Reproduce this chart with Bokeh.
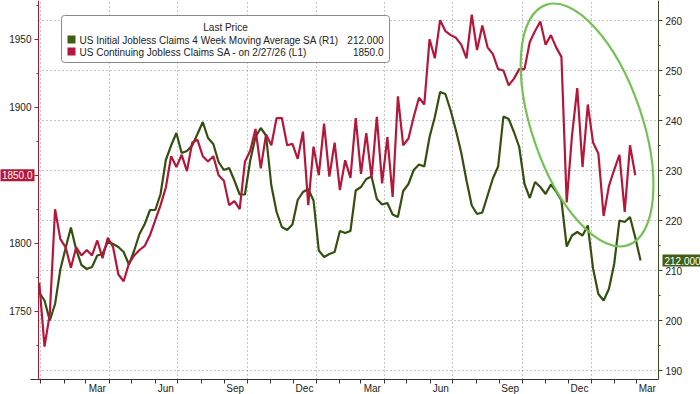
import pandas as pd
from bokeh.plotting import figure
from bokeh.models import (Range1d, LinearAxis, FixedTicker, Grid, Label,
                          BoxAnnotation, ColumnDataSource)
from bokeh.embed import file_html
from bokeh.resources import INLINE

# ---------------- data ----------------
red_name = "US Continuing Jobless Claims SA -  on 2/27/26  (L1)"
green_name = "US Initial Jobless Claims 4 Week Moving Average SA  (R1)"
red_last = "1850.0"
green_last = "212.000"

red_start = "2023-12-30"      # weekly
green_start = "2023-12-30"    # weekly

red_values = [1771, 1724, 1748, 1825, 1803, 1797, 1782, 1797, 1791, 1795,
              1791, 1802, 1789, 1804, 1797, 1777, 1772, 1785, 1791, 1795,
              1798, 1806, 1817, 1828, 1841, 1864, 1856, 1865, 1853, 1874,
              1876, 1864, 1860, 1864, 1850, 1846, 1828, 1831, 1825, 1860,
              1868, 1884, 1855, 1880, 1872, 1892, 1892, 1872, 1873, 1862,
              1882, 1828, 1871, 1850, 1888, 1849, 1874, 1839, 1861, 1848,
              1892, 1851, 1881, 1848, 1893, 1844, 1878, 1834, 1908, 1872,
              1877, 1893, 1907, 1902, 1950, 1936, 1964, 1956, 1953, 1951,
              1946, 1936, 1968, 1942, 1960, 1944, 1939, 1928, 1927, 1916,
              1921, 1928, 1928, 1948, 1956, 1963, 1946, 1953, 1944, 1937,
              1830, 1879, 1914, 1856, 1902, 1874, 1866, 1820, 1842, 1854,
              1865, 1823, 1872, 1850]

green_values = [205.6, 204.0, 200.0, 203.3, 210.2, 214.5, 218.6, 214.2, 211.1, 210.3,
                210.7, 213.0, 213.3, 215.8, 215.3, 214.7, 213.7, 211.2, 214.0, 217.3,
                219.3, 222.1, 222.1, 225.3, 232.1, 235.0, 237.5, 233.5, 233.9, 235.0,
                237.3, 239.7, 236.5, 235.3, 231.7, 230.1, 230.5, 228.0, 225.2, 225.2,
                232.0, 236.7, 238.5, 237.0, 227.0, 221.7, 218.7, 218.1, 219.2, 224.1,
                225.7, 226.3, 224.0, 214.0, 212.7, 213.3, 213.7, 217.9, 217.5, 217.9,
                226.0, 226.7, 228.3, 228.8, 224.3, 223.2, 223.5, 221.2, 220.7, 225.9,
                227.3, 230.1, 231.2, 230.8, 236.7, 240.7, 245.7, 245.3, 242.0, 238.0,
                233.6, 228.0, 223.0, 221.3, 221.6, 225.0, 228.4, 230.8, 240.8, 240.3,
                237.7, 234.7, 227.3, 224.5, 227.7, 226.7, 225.3, 227.2, 225.8, 224.0,
                214.8, 217.0, 217.7, 217.0, 219.0, 210.4, 205.3, 204.0, 206.3, 211.3,
                220.0, 219.7, 220.7, 216.6, 212.0]

x_labels = ["Mar", "Jun", "Sep", "Dec", "Mar", "Jun", "Sep", "Dec", "Mar"]
x_label_dates = ["2024-03-16", "2024-06-15", "2024-09-15", "2024-12-16",
                 "2025-03-16", "2025-06-15", "2025-09-15", "2025-12-16",
                 "2026-03-16"]
grid_dates = ["2024-01-01", "2024-04-01", "2024-07-01", "2024-10-01",
              "2025-01-01", "2025-04-01", "2025-07-01", "2025-10-01",
              "2026-01-01"]
month_start_first, month_start_last = "2024-01-01", "2026-03-01"

left_ticks = [1750, 1800, 1850, 1900, 1950]
left_minor = [1700, 1725, 1750, 1775, 1800, 1825, 1850, 1875, 1900, 1925, 1950, 1975]
right_ticks = [190, 200, 210, 220, 230, 240, 250, 260]
right_minor = [190, 195, 200, 205, 210, 215, 220, 225, 230, 235, 240, 245, 250, 255, 260]

# ---------------- styles / layout ----------------
RED = "#b5173b"
GREEN = "#34500f"
GREEN_TAG = "#3f5f12"
ELLIPSE = "#74c255"
TXT = "#222222"
FONT = "Liberation Sans"
GRID = "#8c8c8c"

W, H = 700, 394
DAY = 86400000.0
PX_PER_DAY = 0.7535


def ms(d):
    return pd.Timestamp(d).value / 1e6


# the frame covers the whole canvas; axes sit at fixed positions inside it
axis_left_x = ms("2023-12-29")                       # 38 px from left
axis_right_x = axis_left_x + 620 / PX_PER_DAY * DAY  # 658 px from left
x_start = axis_left_x - 38 / PX_PER_DAY * DAY
x_end = axis_left_x + (W - 38) / PX_PER_DAY * DAY

right_lo, right_hi = 185.2, 264.0         # green scale
left_lo, left_hi = 1688.75, 1978.46       # red scale
axis_bottom_y = 188.2                     # x axis position (green scale)
left_axis_bottom = 1699.8

red_src = ColumnDataSource(dict(
    x=pd.date_range(red_start, periods=len(red_values), freq="7D"), y=red_values))
green_src = ColumnDataSource(dict(
    x=pd.date_range(green_start, periods=len(green_values), freq="7D"), y=green_values))

p = figure(width=W, height=H, output_backend="svg", toolbar_location=None,
           x_range=Range1d(x_start, x_end), y_range=Range1d(right_lo, right_hi),
           x_axis_type=None, y_axis_type=None,
           min_border_left=0, min_border_right=0, min_border_top=0,
           min_border_bottom=0, outline_line_color=None,
           background_fill_color="white", border_fill_color="white")

p.extra_y_ranges = {"left": Range1d(left_lo, left_hi)}


def style_axis(ax, color):
    ax.axis_line_color = color
    ax.major_tick_line_color = color
    ax.minor_tick_line_color = color
    ax.major_tick_out, ax.major_tick_in = 4, 0
    ax.minor_tick_out, ax.minor_tick_in = 2, 0
    ax.major_label_standoff = 3
    ax.major_label_text_font = FONT
    ax.major_label_text_font_size = "10px"
    ax.major_label_text_color = TXT


# right axis (green)
ra = LinearAxis(ticker=FixedTicker(ticks=right_ticks, minor_ticks=right_minor),
                fixed_location=axis_right_x, bounds=(axis_bottom_y, right_hi))
style_axis(ra, "#3c4a22")
p.add_layout(ra, "right")

# left axis (red)
la = LinearAxis(y_range_name="left",
                ticker=FixedTicker(ticks=left_ticks, minor_ticks=left_minor),
                major_label_overrides={1850: ""}, fixed_location=axis_left_x,
                bounds=(left_axis_bottom, left_hi))
style_axis(la, "#9e1c34")
p.add_layout(la, "left")

# bottom axis
month_ms = [ms(d) for d in pd.date_range(month_start_first, month_start_last, freq="MS")]
lab_ms = [ms(d) for d in x_label_dates]
xa = LinearAxis(ticker=FixedTicker(ticks=lab_ms, minor_ticks=month_ms),
                major_label_overrides={k: v for k, v in zip(lab_ms, x_labels)},
                fixed_location=axis_bottom_y,
                bounds=(axis_left_x - 8 / PX_PER_DAY * DAY, axis_right_x))
style_axis(xa, "#333333")
xa.major_tick_line_color = None
xa.major_tick_out = 0
xa.minor_tick_out = 4
xa.major_label_standoff = -1
p.add_layout(xa, "below")

# grids
p.add_layout(Grid(dimension=1, ticker=FixedTicker(ticks=right_ticks),
                  cross_bounds=(axis_left_x, axis_right_x),
                  grid_line_color=GRID, grid_line_dash="1 3", grid_line_width=1))
p.add_layout(Grid(dimension=0, ticker=FixedTicker(ticks=[ms(d) for d in grid_dates]),
                  cross_bounds=(axis_bottom_y, right_hi),
                  grid_line_color=GRID, grid_line_dash="1 3", grid_line_width=1))

# lines
p.line("x", "y", source=green_src, color=GREEN, line_width=2.2)
p.line("x", "y", source=red_src, y_range_name="left", color=RED, line_width=2.2)

# highlight ellipse
p.ellipse(x=[ms("2025-12-26")], y=[239.1], width=110, height=254,
          width_units="screen", height_units="screen", angle=0.33,
          fill_color=None, line_color=ELLIPSE, line_width=2.2)

# last-value tags
p.add_layout(Label(x=axis_left_x, y=red_values[-1], y_range_name="left", text=red_last,
                   x_offset=-4, text_align="right", text_baseline="middle",
                   text_color="white", text_font=FONT, text_font_size="10px",
                   background_fill_color=RED, padding=2))
p.add_layout(Label(x=axis_right_x, y=green_values[-1], text=green_last,
                   x_offset=4, text_align="left", text_baseline="middle",
                   text_color="white", text_font=FONT, text_font_size="10px",
                   background_fill_color=GREEN_TAG, padding=2))


# legend (screen units, origin at bottom-left of the frame = canvas)
def box(l, r, t, b, fill, line=None, radius=0):
    p.add_layout(BoxAnnotation(left=l, right=r, top=t, bottom=b,
                               left_units="screen", right_units="screen",
                               top_units="screen", bottom_units="screen",
                               fill_color=fill, fill_alpha=1.0,
                               line_color=line, line_alpha=1.0, line_width=1,
                               border_radius=radius))


box(61, 389, H - 15, H - 62, "white", "#8a8a8a", 3)
box(67, 75, H - 35, H - 43, GREEN_TAG)
box(67, 75, H - 47, H - 55, RED)


def txt(x, y, t, align="left"):
    p.add_layout(Label(x=x, y=H - y, x_units="screen", y_units="screen", text=t,
                       text_align=align, text_baseline="middle", text_color=TXT,
                       text_font=FONT, text_font_size="10px"))


txt(225, 27, "Last Price", "center")
txt(79, 39.5, green_name)
txt(79, 51.5, red_name)
txt(383, 39.5, green_last, "right")
txt(383, 51.5, red_last, "right")

open("out.html", "w").write(file_html(p, INLINE))
